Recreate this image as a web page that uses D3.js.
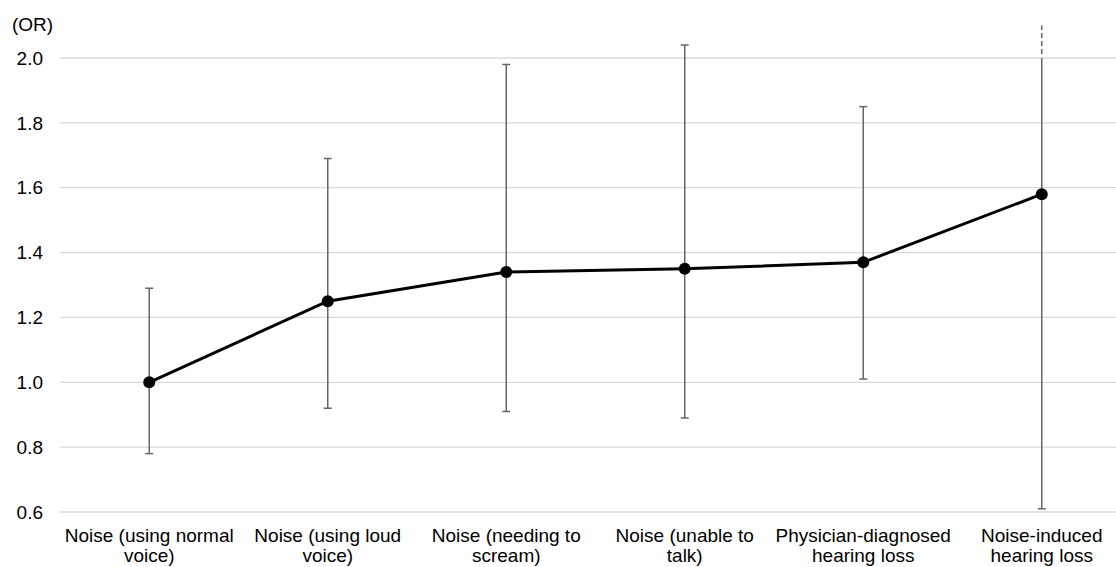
<!DOCTYPE html>
<html>
<head>
<meta charset="utf-8">
<script src="https://cdn.jsdelivr.net/npm/d3@7"></script>
<style>
  body { margin: 0; background: #fff; }
  svg { display: block; font-family: "Liberation Sans", Arial, sans-serif; }
</style>
</head>
<body>
<svg id="chart"></svg>
<script>
const categories = [
  ["Noise (using normal", "voice)"],
  ["Noise (using loud", "voice)"],
  ["Noise (needing to", "scream)"],
  ["Noise (unable to", "talk)"],
  ["Physician-diagnosed", "hearing loss"],
  ["Noise-induced", "hearing loss"]
];
const orValues = [1.00, 1.25, 1.34, 1.35, 1.37, 1.58];
const lowerCI = [0.78, 0.92, 0.91, 0.89, 1.01, 0.61];
const upperCI = [1.29, 1.69, 1.98, 2.04, 1.85, 2.10];
// upper limit runs off the chart (drawn dashed above 2.0)
const offScale = [false, false, false, false, false, true];
const yTicks = [0.6, 0.8, 1.0, 1.2, 1.4, 1.6, 1.8, 2.0];

const width = 1116, height = 567;
const svg = d3.select("#chart").attr("width", width).attr("height", height);

const x = d3.scaleBand()
  .domain(d3.range(categories.length))
  .range([60, 1131]);
const y = d3.scaleLinear().domain([0.6, 2.0]).range([512, 58]);
const cx = i => x(i) + x.bandwidth() / 2;
const idx = d3.range(categories.length);

// gridlines
svg.append("g")
  .selectAll("line")
  .data(yTicks)
  .join("line")
  .attr("x1", 60)
  .attr("x2", width)
  .attr("y1", d => y(d))
  .attr("y2", d => y(d))
  .attr("stroke", "#d9d9d9")
  .attr("stroke-width", 1.3);

// y labels
svg.append("g")
  .selectAll("text")
  .data(yTicks)
  .join("text")
  .attr("x", 43)
  .attr("y", d => y(d))
  .attr("dy", "0.35em")
  .attr("text-anchor", "end")
  .attr("font-size", 19)
  .attr("fill", "#000")
  .text(d => d.toFixed(1));

svg.append("text")
  .attr("x", 12)
  .attr("y", 24)
  .attr("dy", "0.35em")
  .attr("font-size", 19)
  .text("(OR)");

// error bars
const bars = svg.append("g").attr("stroke", "#666").attr("stroke-width", 1.5);
bars.selectAll("line.ci")
  .data(idx)
  .join("line")
  .attr("class", "ci")
  .attr("x1", cx).attr("x2", cx)
  .attr("y1", i => y(lowerCI[i]))
  .attr("y2", i => offScale[i] ? y(2.0) : y(upperCI[i]));
bars.selectAll("line.lo")
  .data(idx)
  .join("line")
  .attr("class", "lo")
  .attr("x1", i => cx(i) - 4).attr("x2", i => cx(i) + 4)
  .attr("y1", i => y(lowerCI[i])).attr("y2", i => y(lowerCI[i]));
bars.selectAll("line.hi")
  .data(idx.filter(i => !offScale[i]))
  .join("line")
  .attr("class", "hi")
  .attr("x1", i => cx(i) - 4).attr("x2", i => cx(i) + 4)
  .attr("y1", i => y(upperCI[i])).attr("y2", i => y(upperCI[i]));
bars.selectAll("line.ext")
  .data(idx.filter(i => offScale[i]))
  .join("line")
  .attr("class", "ext")
  .attr("x1", cx).attr("x2", cx)
  .attr("y1", y(2.0) - 4)
  .attr("y2", i => y(upperCI[i]))
  .attr("stroke-dasharray", "5,3");

// line
svg.append("path")
  .datum(idx)
  .attr("fill", "none")
  .attr("stroke", "#000")
  .attr("stroke-width", 3)
  .attr("d", d3.line().x(cx).y(i => y(orValues[i])));

svg.append("g")
  .selectAll("circle")
  .data(idx)
  .join("circle")
  .attr("cx", cx)
  .attr("cy", i => y(orValues[i]))
  .attr("r", 6)
  .attr("fill", "#000");

// category labels
const lab = svg.append("g")
  .selectAll("text")
  .data(idx)
  .join("text")
  .attr("text-anchor", "middle")
  .attr("font-size", 19)
  .attr("fill", "#000");
lab.selectAll("tspan")
  .data(i => categories[i].map(t => ({ t, i })))
  .join("tspan")
  .attr("x", d => cx(d.i))
  .attr("y", (d, k) => 542 + k * 20)
  .text(d => d.t);
</script>
</body>
</html>
